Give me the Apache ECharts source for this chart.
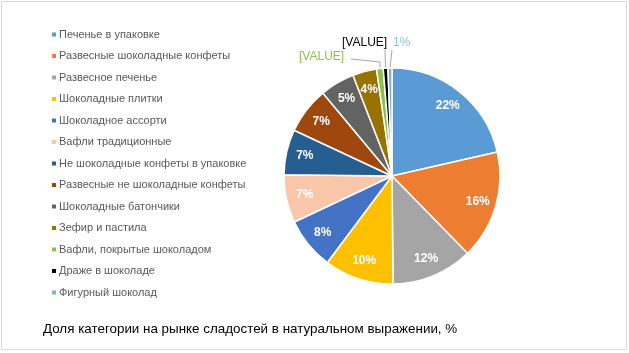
<!DOCTYPE html>
<html>
<head>
<meta charset="utf-8">
<script src="https://cdn.jsdelivr.net/npm/echarts@6/dist/echarts.min.js"></script>
<style>
  html, body { margin: 0; padding: 0; background: #fff; }
  #chart-panel { width: 629px; height: 353px; }
</style>
</head>
<body>
<div id="chart-panel"></div>
<script>
var categories = [
    'Печенье в упаковке',
    'Развесные шоколадные конфеты',
    'Развесное печенье',
    'Шоколадные плитки',
    'Шоколадное ассорти',
    'Вафли традиционные',
    'Не шоколадные конфеты в упаковке',
    'Развесные не шоколадные конфеты',
    'Шоколадные батончики',
    'Зефир и пастила',
    'Вафли, покрытые шоколадом',
    'Драже в шоколаде',
    'Фигурный шоколад'
];
var shares = [21.5, 16.3, 12.2, 10.4, 7.8, 7.2, 6.8, 7.0, 5.2, 3.6, 1.0, 0.7, 0.6];
var labelTexts = ['22%', '16%', '12%', '10%', '8%', '7%', '7%', '7%', '5%', '4%', '[VALUE]', '[VALUE]', '1%'];
var colors = ['#5B9BD5', '#ED7D31', '#A5A5A5', '#FFC000', '#4472C4', '#F8C7A9', '#255E91',
              '#9E480E', '#636363', '#997300', '#8CC152', '#000000', '#7CAFDD'];

// small slices get outside labels
var outsideSpots = {
    10: { x: 299, y: 57, bend: [380, 62], end: [351, 59], color: '#8CC152' },
    11: { x: 342, y: 43, bend: [385, 50], end: [385, 50], color: '#000' },
    12: { x: 393, y: 43, bend: [392, 50], end: [392, 50], color: '#7FC4E2' }
};

var pieCenter = [392, 176];
var pieRadius = 108;

var pieData = shares.map(function (v, i) {
    var item = { name: categories[i], value: v, itemStyle: { color: colors[i] } };
    if (outsideSpots[i]) {
        item.label = { show: true, position: 'outside', color: outsideSpots[i].color };
        item.labelLine = { show: true, length: 6, length2: 6, lineStyle: { color: '#A6A6A6', width: 1 } };
    } else {
        item.label = { show: false };
        item.labelLine = { show: false };
    }
    return item;
});

var ringData = shares.map(function (v, i) {
    return {
        name: categories[i],
        value: v,
        label: { show: !outsideSpots[i] }
    };
});

var option = {
    animation: false,
    title: {
        text: 'Доля категории на рынке сладостей в натуральном выражении, %',
        left: 38,
        top: 318,
        textStyle: { fontFamily: 'Liberation Sans', fontSize: 13.4, fontWeight: 'normal', color: '#000' }
    },
    legend: {
        orient: 'vertical',
        left: 45,
        top: 24,
        itemWidth: 6,
        itemHeight: 6,
        itemGap: 10.5,
        icon: 'rect',
        data: categories,
        textStyle: { fontFamily: 'Liberation Sans', fontSize: 11, color: '#595959', padding: [0, 0, 0, -3] }
    },
    graphic: [{
        type: 'rect',
        shape: { x: 1.5, y: 1.5, width: 625, height: 348 },
        style: { fill: 'none', stroke: '#D9D9D9', lineWidth: 1 },
        silent: true
    }],
    series: [{
        type: 'pie',
        center: pieCenter,
        radius: pieRadius,
        startAngle: 90,
        clockwise: true,
        avoidLabelOverlap: false,
        itemStyle: { borderColor: '#fff', borderWidth: 1.5 },
        label: {
            fontFamily: 'Liberation Sans',
            fontSize: 12,
            formatter: function (p) { return labelTexts[p.dataIndex]; }
        },
        labelLayout: function (params) {
            var s = outsideSpots[params.dataIndex];
            if (!s) return {};
            var p0 = params.labelLinePoints ? params.labelLinePoints[0] : s.bend;
            return {
                x: s.x,
                y: s.y,
                align: 'left',
                verticalAlign: 'middle',
                labelLinePoints: [p0, s.bend, s.end]
            };
        },
        emphasis: { disabled: true },
        data: pieData
    }, {
        // transparent ring that only carries the inside labels
        type: 'pie',
        center: pieCenter,
        radius: [pieRadius * 0.6, pieRadius],
        startAngle: 90,
        clockwise: true,
        silent: true,
        itemStyle: { color: 'rgba(0,0,0,0)' },
        label: {
            position: 'inside',
            color: '#fff',
            fontFamily: 'Liberation Sans',
            fontWeight: 'bold',
            fontSize: 12,
            formatter: function (p) { return labelTexts[p.dataIndex]; }
        },
        labelLine: { show: false },
        emphasis: { disabled: true },
        data: ringData
    }]
};
var myChart = echarts.init(document.getElementById('chart-panel'));
myChart.setOption(option);
</script>
</body>
</html>
